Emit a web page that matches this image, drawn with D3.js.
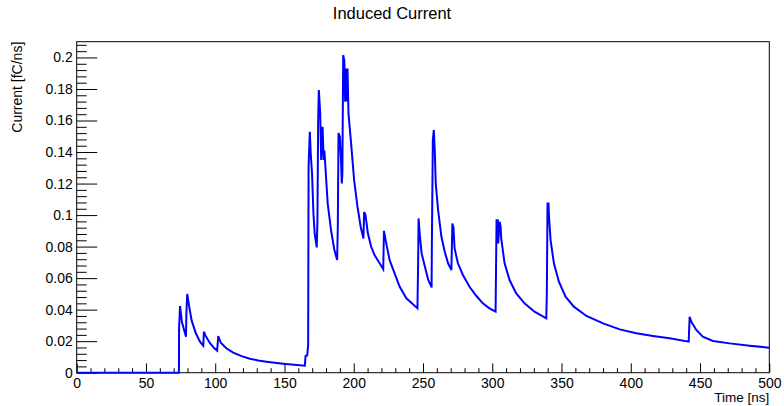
<!DOCTYPE html>
<html>
<head>
<meta charset="utf-8">
<script src="https://cdn.jsdelivr.net/npm/d3@7"></script>
<style>
  body { margin: 0; background: #fff; }
  svg { display: block; font-family: "Liberation Sans", Arial, sans-serif; }
</style>
</head>
<body>
<svg></svg>
<script>
// time axis [ns] and induced current [fC/ns]
var timeNs = [
  0, 73.8, 73.9, 74.6, 76, 78.9, 79.2, 79.8, 81, 83, 86, 89, 91.4, 91.8, 93, 96, 99, 101.4, 102.2,
  104, 108, 113, 119, 125, 131, 137, 143, 149, 157, 164.7, 165.2, 166.4, 167.1, 167.4, 168.3,
  169, 169.9, 170.9, 171.8, 173.3, 173.8, 174.3, 174.8, 175.8, 176.5, 177.5, 178.3, 178.8,
  181.2, 183.6, 186, 188, 188.5, 189, 190, 190.9, 191.4, 191.8, 192.4, 193.2, 193.8, 194.3,
  195, 195.5, 196.2, 197.9, 200.3, 202.7, 205, 207, 207.5, 208.5, 210.2, 212.6, 215, 218.7,
  221.3, 221.8, 223, 225.9, 229.5, 233.2, 238, 242, 246, 246.5, 246.8, 247.7, 249, 251.4,
  253.8, 256.2, 256.4, 257.1, 257.8, 258.5, 259.2, 260.9, 263.3, 265.7, 268.1, 270.5, 271.2,
  272, 272.8, 275.2, 278.8, 283.6, 288.4, 293.2, 298, 302.4, 303.1, 304, 304.3, 305.3, 306,
  306.5, 308.9, 312.5, 317.3, 323.3, 330.5, 339, 339.4, 339.9, 340.6, 340.9, 342.1, 344.5,
  348.1, 352.9, 358.9, 368, 380, 392, 404, 416, 428, 441.8, 442.5, 443.7, 447.3, 452, 459.3,
  471.4, 485.8, 500
];
var currentFcNs = [
  0, 0, 0.028, 0.0423, 0.032, 0.0228, 0.0377, 0.050, 0.043, 0.033, 0.025, 0.0197, 0.0171, 0.026,
  0.0235, 0.019, 0.0158, 0.0140, 0.0233,
  0.019, 0.0155, 0.0127, 0.0105, 0.0089, 0.0078, 0.0070, 0.0063, 0.0057, 0.0050, 0.0044, 0.0106,
  0.011, 0.0176, 0.131, 0.1528,
  0.138, 0.1264, 0.101, 0.0884, 0.0795, 0.0968, 0.159, 0.1793, 0.1645, 0.1349, 0.156, 0.135, 0.141,
  0.1074, 0.0905, 0.078, 0.0715, 0.0926, 0.152, 0.1497, 0.1328, 0.12, 0.1266, 0.2015, 0.198, 0.1719,
  0.193,
  0.172, 0.193, 0.1645, 0.1476, 0.122, 0.1053, 0.0926, 0.0852, 0.102, 0.100, 0.0884, 0.0799, 0.0746,
  0.0694,
  0.0656, 0.090, 0.0841, 0.0715, 0.063, 0.0545, 0.0472, 0.044, 0.0408, 0.0704, 0.0979, 0.0873, 0.0757,
  0.0672,
  0.0588, 0.0541, 0.082, 0.1476, 0.1539, 0.141, 0.12, 0.1032, 0.0862, 0.0767, 0.0694, 0.0651, 0.0947,
  0.092, 0.0789, 0.0694, 0.062, 0.0545, 0.0488, 0.044, 0.0408, 0.0387, 0.0968, 0.0968, 0.082, 0.0958,
  0.093,
  0.085, 0.0694, 0.0588, 0.0503, 0.044, 0.0387, 0.0345, 0.0503, 0.1074, 0.1074, 0.100, 0.0841, 0.0694,
  0.0577, 0.0482, 0.0419, 0.036, 0.0313, 0.0275, 0.025, 0.0233, 0.0218, 0.0197, 0.0355, 0.0323,
  0.0271, 0.0228, 0.0201,
  0.0186, 0.0171, 0.0159
];
var xMajorTicks = [0, 50, 100, 150, 200, 250, 300, 350, 400, 450, 500];
var yMajorTicks = [0, 0.02, 0.04, 0.06, 0.08, 0.1, 0.12, 0.14, 0.16, 0.18, 0.2];

var margin = {
    top: 41.7,
    right: 14.7,
    bottom: 33.3,
    left: 76.7
};

var width = 784 - margin.left - margin.right,
    height = 406 - margin.top - margin.bottom;

var svgRoot = d3.select("svg")
    .attr("width", 784)
    .attr("height", 406);

var svg = svgRoot.append("g")
    .attr("transform", "translate(" + margin.left + "," + margin.top + ")");

var x = d3.scaleLinear().domain([0, 500]).range([0, width]);
var y = d3.scaleLinear().domain([0, 0.21]).range([height, 0]);

// minor ticks
var xMinor = d3.range(0, 501, 10).filter(function(d) { return d % 50 != 0; });
var yMinor = d3.range(0, 210, 4).map(function(d) { return d / 1000; })
    .filter(function(d) { return Math.round(d * 1000) % 20 != 0; });

svg.append("g")
    .attr("transform", "translate(0," + height + ")")
    .call(d3.axisBottom(x).tickValues(xMinor).tickSize(-4.5).tickFormat(""))
    .call(function(g) { g.select(".domain").remove(); });

var xAxis = svg.append("g")
    .attr("transform", "translate(0," + height + ")")
    .call(d3.axisBottom(x).tickValues(xMajorTicks).tickSize(-9.3).tickPadding(5)
        .tickFormat(d3.format("d")));
xAxis.select(".domain").remove();

svg.append("g")
    .call(d3.axisLeft(y).tickValues(yMinor).tickSize(-10).tickFormat(""))
    .call(function(g) { g.select(".domain").remove(); });

var yAxis = svg.append("g")
    .call(d3.axisLeft(y).tickValues(yMajorTicks).tickSize(-20.5).tickPadding(4)
        .tickFormat(d3.format(".2~f")));
yAxis.select(".domain").remove();

svg.selectAll(".tick line").attr("stroke", "#000").attr("stroke-width", 1);
svg.selectAll(".tick text")
    .attr("fill", "#000")
    .style("font-size", "14px")
    .style("font-family", "Liberation Sans, Arial, sans-serif");

// frame
svg.append("rect")
    .attr("x", 0)
    .attr("y", 0)
    .attr("width", width)
    .attr("height", height)
    .attr("fill", "none")
    .attr("stroke", "#000")
    .attr("stroke-width", 1);

// the curve
var pts = timeNs.map(function(t, i) { return [t, currentFcNs[i]]; });
var line = d3.line()
    .x(function(d) { return x(d[0]); })
    .y(function(d) { return y(d[1]); });

svg.append("path")
    .datum(pts)
    .attr("fill", "none")
    .attr("stroke", "#0000ff")
    .attr("stroke-width", 2)
    .attr("stroke-linejoin", "miter")
    .attr("d", line);

// titles
svgRoot.append("text")
    .attr("x", 392)
    .attr("y", 18.5)
    .attr("text-anchor", "middle")
    .style("font-size", "16.5px")
    .text("Induced Current");

svgRoot.append("text")
    .attr("x", margin.left + width)
    .attr("y", 402)
    .attr("text-anchor", "end")
    .style("font-size", "13.5px")
    .text("Time [ns]");

svgRoot.append("text")
    .attr("transform", "translate(21.5," + margin.top + ") rotate(-90)")
    .attr("text-anchor", "end")
    .style("font-size", "14px")
    .text("Current [fC/ns]");
</script>
</body>
</html>
